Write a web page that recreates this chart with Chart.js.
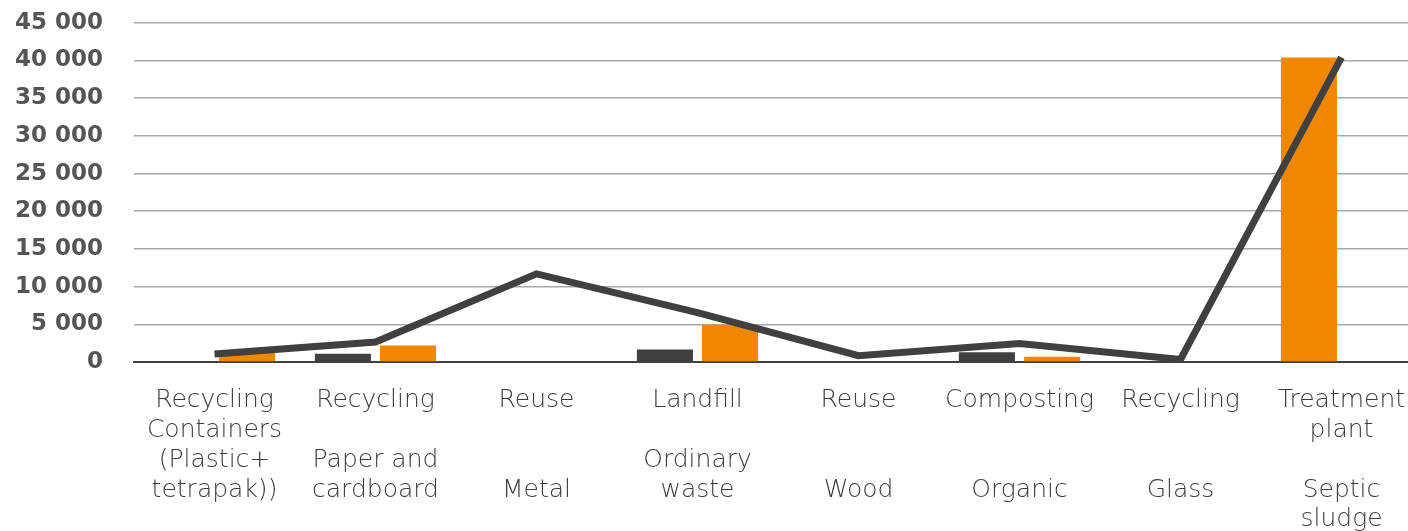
<!DOCTYPE html>
<html>
<head>
<meta charset="utf-8">
<script src="https://cdn.jsdelivr.net/npm/chart.js@4/dist/chart.umd.min.js"></script>
<style>
  html, body {
    margin: 0;
    padding: 0;
    background: #ffffff;
    overflow: hidden;
  }
  .wrap {
    position: relative;
    width: 1422px;
    height: 553px;
    margin-top: -22px;
  }
</style>
</head>
<body>
<div class="wrap"><canvas id="wasteChart"></canvas></div>
<script>
// カテゴリ（処理方法 / 廃棄物の種類）
const categoryLabels = [
  ["Recycling", "Containers", "(Plastic+", "tetrapak))"],
  ["Recycling", "", "Paper and", "cardboard"],
  ["Reuse", "", "", "Metal"],
  ["Landfill", "", "Ordinary", "waste"],
  ["Reuse", "", "", "Wood"],
  ["Composting", "", "", "Organic"],
  ["Recycling", "", "", "Glass"],
  ["Treatment", "plant", "", "Septic", "sludge"],
];

// 棒グラフ（1本目・2本目）
const barValuesA = [0, 1100, 0, 1650, 0, 1300, 0, 40400];
const barValuesB = [1250, 2200, 0, 4950, 0, 700, 0, 0];

// 折れ線
const lineValues = [1070, 2650, 11700, 6550, 830, 2450, 330, 40400];

// Y軸の目盛り
const yTickMin = 0;
const yTickMax = 45000;
const yTickStep = 5000;

const DARK = "#404040";
const ORANGE = "#f08700";

// 3桁区切り（スペース）
function formatThousands(value) {
  return String(value).replace(/\B(?=(\d{3})+(?!\d))/g, " ");
}

const wasteChartConfig = {
  type: "bar",
  data: {
    labels: categoryLabels,
    datasets: [
      {
        type: "bar",
        label: "A",
        data: barValuesA,
        backgroundColor: (ctx) => (ctx.dataIndex === 7 ? ORANGE : DARK),
        borderWidth: 0,
        order: 1,
        barPercentage: 0.86,
        categoryPercentage: 0.81,
      },
      {
        type: "bar",
        label: "B",
        data: barValuesB,
        backgroundColor: ORANGE,
        borderWidth: 0,
        order: 1,
        barPercentage: 0.86,
        categoryPercentage: 0.81,
      },
      {
        type: "line",
        label: "Total",
        data: lineValues,
        borderColor: DARK,
        borderWidth: 7,
        borderCapStyle: "butt",
        borderJoinStyle: "miter",
        pointRadius: 0,
        tension: 0,
        fill: false,
        order: 0,
      },
    ],
  },
  options: {
    responsive: true,
    maintainAspectRatio: false,
    animation: false,
    plugins: {
      legend: { display: false },
      tooltip: { enabled: false },
    },
    scales: {
      x: {
        grid: { display: false },
        border: { display: true, color: DARK, width: 2 },
        ticks: {
          autoSkip: false,
          maxRotation: 0,
          padding: 16,
          color: "#3c3c3c",
          font: { family: "DejaVu Sans", weight: 200, size: 25, lineHeight: 1.19 },
        },
        afterFit: (scale) => {
          scale.height = 169;
        },
      },
      y: {
        min: yTickMin,
        max: yTickMax,
        border: { display: false },
        grid: {
          color: "#a8a8a8",
          lineWidth: 1.5,
          drawTicks: false,
        },
        ticks: {
          stepSize: yTickStep,
          padding: 31,
          color: "#555555",
          font: { family: "DejaVu Sans", weight: "bold", size: 23 },
          callback: (value) => formatThousands(value),
        },
        afterFit: (scale) => {
          scale.width = 134;
        },
      },
    },
  },
};

const wasteChart = new Chart(document.getElementById("wasteChart"), wasteChartConfig);
</script>
</body>
</html>
